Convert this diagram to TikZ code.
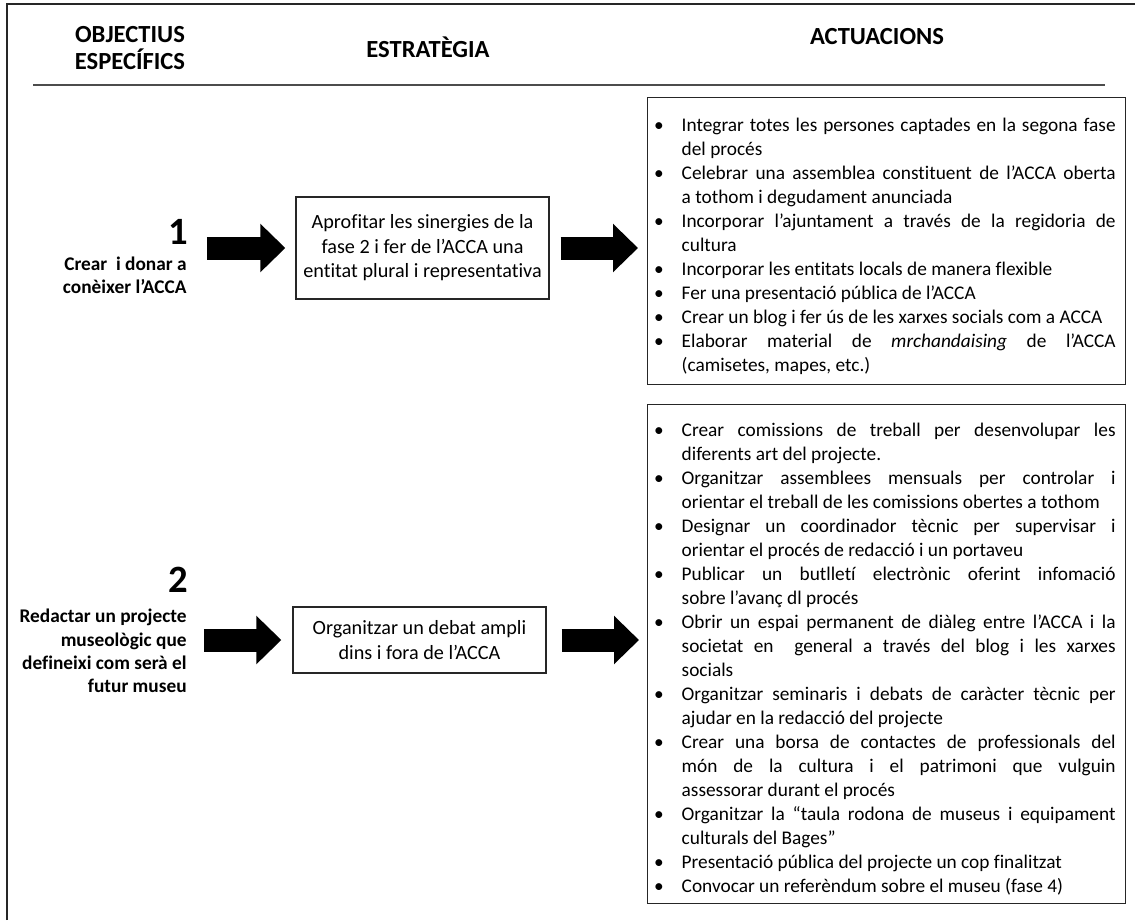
\documentclass[tikz,border=0pt]{standalone}
\usepackage{fontspec}
\setmainfont{Carlito}[Ligatures={NoCommon}]
\usepackage{enumitem}
\usetikzlibrary{arrows.meta,positioning}

\begin{document}
\begin{tikzpicture}[x=0.02cm, y=-0.02cm,
    head/.style={font=\fontsize{14}{15.4}\selectfont\bfseries, align=center, inner sep=0pt},
    goal/.style={font=\fontsize{11}{13.2}\selectfont\bfseries, align=right, inner sep=0pt, anchor=east},
    num/.style={font=\fontsize{22}{26}\selectfont\bfseries, inner sep=0pt, anchor=east},
    stratbox/.style={draw=black!85, line width=0.8pt, align=center, minimum width=5.06cm, font=\fontsize{11.5}{13.9}\selectfont},
    actbox/.style={draw=black!85, line width=0.8pt, anchor=north west, inner xsep=0.2cm, inner ysep=0pt, text width=9.16cm, align=justify, font=\fontsize{11}{13.66}\selectfont},
    bigarrow/.style={line width=0.46cm, -{Triangle[length=0.5cm, width=0.94cm]}}]

      \useasboundingbox (0, 0) rectangle (1135, 920);

      \draw[line width=1.1pt, black!85] (7, 920) -- (7, 4) -- (1135, 4);
      \draw[line width=1.1pt, black!70] (33, 85) -- (1105, 85);

      \node[head] (hobj) at (130, 48) {OBJECTIUS\\ESPECÍFICS};
      \node[head] (hstr) at (428, 47) {ESTRATÈGIA};
      \node[head] (hact) at (877, 37) {ACTUACIONS};

      \node[num] (n1) at (188, 232) {1};
      \node[goal] (goal1) at (187, 275) {Crear\ \ i donar a\\conèixer l’ACCA};
      \node[stratbox, minimum height=2.04cm] (strat1) at (422.5, 248) {Aprofitar les sinergies de la\\fase 2 i fer de l’ACCA una\\entitat plural i representativa};

      \node[actbox, minimum height=5.74cm] (actA) at (647, 97) {%
        \begin{itemize}[nosep, leftmargin=0.48cm, labelsep=0.36cm]
          \item Integrar totes les persones captades en la segona fase \linebreak del procés
          \item Celebrar una assemblea constituent de l’ACCA oberta \linebreak a tothom i degudament anunciada
          \item Incorporar l’ajuntament a través de la regidoria de \linebreak cultura
          \item Incorporar les entitats locals de manera flexible
          \item Fer una presentació pública de l’ACCA
          \item Crear un blog i fer ús de les xarxes socials com a ACCA
          \item Elaborar material de \textit{mrchandaising} de l’ACCA \linebreak (camisetes, mapes, etc.)
        \end{itemize}};

      \node[num] (n2) at (188, 580) {2};
      \node[goal] (goal2) at (187, 651) {Redactar un projecte\\museològic que\\defineixi com serà el\\futur museu};
      \node[stratbox, minimum height=1.32cm] (strat2) at (419.5, 640) {Organitzar un debat ampli\\dins i fora de l’ACCA};

      \node[actbox, minimum height=9.98cm] (actB) at (647, 404) {%
        \begin{itemize}[nosep, leftmargin=0.48cm, labelsep=0.36cm]
          \item Crear comissions de treball per desenvolupar les \linebreak diferents art del projecte.
          \item Organitzar assemblees mensuals per controlar i \linebreak orientar el treball de les comissions obertes a tothom
          \item Designar un coordinador tècnic per supervisar i \linebreak orientar el procés de redacció i un portaveu
          \item Publicar un butlletí electrònic oferint infomació \linebreak sobre l’avanç dl procés
          \item Obrir un espai permanent de diàleg entre l’ACCA i la \linebreak societat en \ general a través del blog i les xarxes \linebreak socials
          \item Organitzar seminaris i debats de caràcter tècnic per \linebreak ajudar en la redacció del projecte
          \item Crear una borsa de contactes de professionals del \linebreak món de la cultura i el patrimoni que vulguin \linebreak assessorar durant el procés
          \item Organitzar la “taula rodona de museus i equipament \linebreak culturals del Bages”
          \item Presentació pública del projecte un cop finalitzat
          \item Convocar un referèndum sobre el museu (fase 4)
        \end{itemize}};

      \draw[bigarrow, shorten <=0.4cm, shorten >=0.2cm] (strat1.west -| goal1.east) -- (strat1.west);
      \draw[bigarrow, shorten <=0.22cm, shorten >=0.18cm] (strat1.east) -- (strat1.east -| actA.west);
      \draw[bigarrow, shorten <=0.34cm, shorten >=0.22cm] (strat2.west -| goal2.east) -- (strat2.west);
      \draw[bigarrow, shorten <=0.3cm, shorten >=0.16cm] (strat2.east) -- (strat2.east -| actB.west);

    \end{tikzpicture}
\end{document}
